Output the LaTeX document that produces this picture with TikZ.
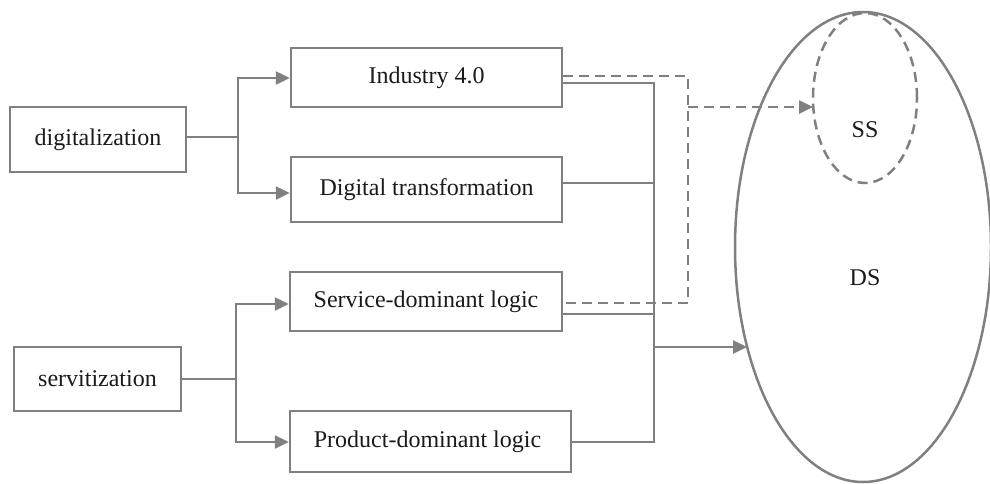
\documentclass[tikz,border=0pt]{standalone}
\usepackage{fontspec}
\setmainfont{Liberation Serif}
\definecolor{LineGray}{HTML}{808080}
\definecolor{TextDark}{HTML}{1A1A1A}
\usetikzlibrary{shapes.geometric, arrows.meta, positioning}

\begin{document}
\begin{tikzpicture}[
  x=1pt, y=-1pt,
  box/.style={rectangle, draw=LineGray, line width=2.5pt, align=center,
              font=\fontsize{24}{28}\selectfont, text=TextDark,
              inner sep=0pt},
  link/.style={draw=LineGray, line width=2.5pt},
  tip/.style={link, -{Triangle[length=14pt,width=13pt]}},
  dashlink/.style={link, dash pattern=on 10pt off 6pt},
  blob/.style={ellipse, draw=LineGray, line width=2.5pt, inner sep=0pt,
               font=\fontsize{24}{28}\selectfont, text=TextDark},
]
\useasboundingbox (0,0) rectangle (990,483);

% left column: the two drivers
\node[box, minimum width=176pt, minimum height=65pt] (dig) at (98,139.5) {digitalization};
\node[box, minimum width=167pt, minimum height=64pt] (ser) at (97.5,379) {servitization};

% middle column: the four concepts
\foreach \name/\cx/\cy/\w/\h/\txt in {
  ind/426.5/77.5/271/59/Industry 4.0,
  dtr/426.5/189.5/271/65/Digital transformation,
  sdl/426/301.5/272/59/Service-dominant logic,
  pdl/430.5/441.5/281/61/Product-dominant logic
} {
  \node[box, minimum width=\w pt, minimum height=\h pt] (\name) at (\cx,\cy) {\txt};
}

% right: DS with SS inside
\node[blob, minimum width=256pt, minimum height=470pt] (ds) at (863,247) {};
\node[blob, dash pattern=on 10pt off 6pt,
      minimum width=104pt, minimum height=170pt] (ss) at (865,98) {};
\node[font=\fontsize{24}{28}\selectfont, text=TextDark] (sslbl) at (865,130) {SS};
\node[font=\fontsize{24}{28}\selectfont, text=TextDark] (dslbl) at (865,278) {DS};

% branching from the drivers
\coordinate (dj) at (238,137);
\coordinate (sj) at (236,379);
\draw[link] (dig.east |- dj) -- (dj);
\draw[tip] (dj) |- (ind.west |- 0,78);
\draw[tip] (dj) |- (dtr.west |- 0,193);
\draw[link] (ser.east |- sj) -- (sj);
\draw[tip] (sj) |- (sdl.west |- 0,304);
\draw[tip] (sj) |- (pdl.west |- 0,442);

% solid bus into DS
\coordinate (bus) at (654,347);
\coordinate (dsin) at (747,347);
\draw[link] (ind.east |- 0,83) -| (bus |- 0,442) -- (pdl.east |- 0,442);
\draw[link] (dtr.east |- 0,183) -- (bus |- 0,183);
\draw[link] (sdl.east |- 0,314) -- (bus |- 0,314);
\draw[tip] (bus) -- (dsin);

% dashed bus into SS
\coordinate (dbus) at (688,107);
\coordinate (ssin) at (813,107);
\draw[dashlink] (ind.east |- 0,76) -| (dbus |- 0,303) -- (sdl.east |- 0,303);
\draw[dashlink, -{Triangle[length=14pt,width=13pt]}] (dbus) -- (ssin);
\end{tikzpicture}
\end{document}
